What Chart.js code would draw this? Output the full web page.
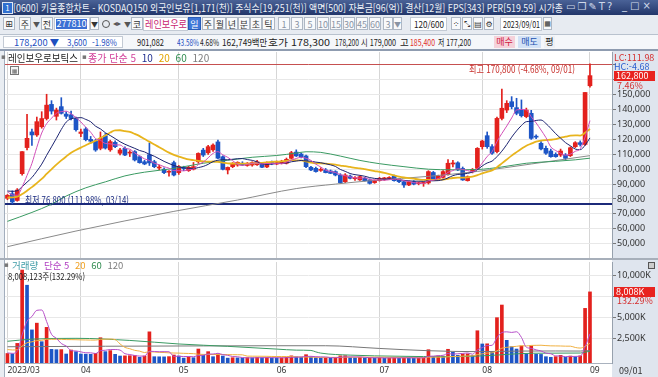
<!DOCTYPE html>
<html lang="ko">
<head>
<meta charset="utf-8">
<title>키움종합차트 - 레인보우로보틱스</title>
<script src="https://cdn.jsdelivr.net/npm/chart.js@4.4.1/dist/chart.umd.min.js"></script>
<style>
  html, body { margin: 0; padding: 0; }
  body { width: 658px; height: 377px; overflow: hidden; position: relative; background: #fff;
         font-family: "Noto Sans CJK KR", "Noto Sans", sans-serif; font-size: 10px; color: #222; }
  .abs { position: absolute; white-space: nowrap; line-height: 1; transform-origin: 0 50%; }
  #titlebar { position: absolute; left: 0; top: 0; width: 658px; height: 15px; background: linear-gradient(#4a6297, #22366a); }
  #toolbar { position: absolute; left: 0; top: 15px; width: 658px; height: 19px; background: #e7ebf1; border-bottom: 1px solid #b9c2ce; }
  #infobar { position: absolute; left: 0; top: 35px; width: 658px; height: 14px; background: #f5f7fa; border-bottom: 1px solid #8f9cb0; }
  .btn { position: absolute; top: 2px; height: 13px; border: 1px solid #aeb7c4; background: #f8f9fb; font-size: 9px;
         line-height: 13px; text-align: center; box-sizing: border-box; color: #333; }
  .dim { color: #8a94a4; }
  .box { position: absolute; top: 1px; height: 12px; border: 1px solid #c3cad4; background: #fff; box-sizing: border-box; }
  #rightStrip { position: absolute; left: 612px; top: 50px; width: 46px; height: 327px; background: #dfe5ee; }
  #leftStrip { position: absolute; left: 0; top: 50px; width: 4px; height: 327px; background: #e9edf2; border-right: 1px solid #a3aebd; }
  .pane { position: absolute; left: 0; width: 658px; }
  .tag { position: absolute; left: 614px; width: 41px; height: 10px; background: #e8231f; color: #fff; font-size: 9px; line-height: 10px; padding-left: 2px; box-sizing: border-box; }
</style>
</head>
<body>

<div id="titlebar">
  <span class="abs" style="left:2px;top:2px;width:9px;height:10px;border:1px solid #dfe6f3;background:#2f6fd0;color:#fff;font-size:8px;line-height:10px;text-align:center;">1</span>
  <span class="abs" data-w="550" style="left:13px;top:3px;color:#eef2f8;font-size:10px;">[0600] 키움종합차트 - KOSDAQ150 외국인보유[1,171(천)] 주식수[19,251(천)] 액면[500] 자본금[96(억)] 결산[12월] EPS[343] PER[519.59] 시가총</span>
  <span class="abs" style="left:566px;top:2px;color:#cfd9ea;font-size:10px;letter-spacing:2px;font-family:'DejaVu Sans';">▭❐✎T?</span>
  <span class="abs" style="left:622px;top:1px;color:#cfd9ea;font-size:10px;letter-spacing:3px;font-family:'DejaVu Sans';">_□×</span>
</div>

<div id="toolbar">
  <span class="btn" style="left:3px;width:12px;font-family:'DejaVu Sans';">⊞</span>
  <span class="btn" style="left:19px;width:12px;">주</span>
  <span class="abs" style="left:33px;top:6px;font-size:7px;color:#555;">▼</span>
  <span class="btn" style="left:41px;width:12px;">전</span>
  <span class="box" style="left:54px;top:2px;width:36px;height:14px;"></span>
  <span class="abs" style="left:56px;top:4px;width:31px;height:10px;background:#3b6fd4;color:#fff;font-size:9px;line-height:10px;text-align:center;">277810</span>
  <span class="btn" style="left:90px;width:9px;font-size:7px;">▼</span>
  <span class="abs" style="left:102px;top:5px;width:6px;height:6px;border:1.5px solid #555;border-radius:50%;"></span>
  <span class="abs" style="left:113px;top:5px;font-size:8px;color:#555;font-family:'DejaVu Sans';">◂▸</span>
  <span class="abs" style="left:124px;top:6px;font-size:7px;color:#555;">▼</span>
  <span class="btn" style="left:131px;width:12px;">코</span>
  <span class="box" style="left:143px;top:2px;width:45px;height:14px;"></span>
  <span class="abs" data-w="42" style="left:145px;top:4px;color:#c8246f;font-size:10px;">레인보우로</span>
  <span class="btn" style="left:188px;width:13px;background:#3e77d8;color:#fff;border-color:#2a5db8;">일</span>
  <span class="btn" style="left:202px;width:12px;">주</span>
  <span class="btn" style="left:214px;width:12px;">월</span>
  <span class="btn" style="left:226px;width:12px;">년</span>
  <span class="btn" style="left:238px;width:12px;">분</span>
  <span class="btn" style="left:250px;width:12px;">초</span>
  <span class="btn" style="left:262px;width:13px;">틱</span>
  <span class="btn dim" style="left:278px;width:12px;">1</span>
  <span class="btn dim" style="left:291px;width:12px;">3</span>
  <span class="btn dim" style="left:304px;width:12px;">5</span>
  <span class="btn dim" style="left:317px;width:12px;">10</span>
  <span class="btn dim" style="left:330px;width:12px;">15</span>
  <span class="btn dim" style="left:343px;width:12px;">30</span>
  <span class="btn dim" style="left:356px;width:12px;">45</span>
  <span class="btn dim" style="left:369px;width:12px;">60</span>
  <span class="btn dim" style="left:383px;width:10px;">3</span>
  <span class="btn dim" style="left:393px;width:9px;font-size:7px;">▼</span>
  <span class="box" style="left:410px;top:2px;width:37px;height:14px;"></span>
  <span class="abs" data-w="30" style="left:414px;top:5px;font-size:9px;">120/600</span>
  <span class="btn" style="left:451px;width:10px;font-family:'DejaVu Sans';font-size:8px;">⁘</span>
  <span class="btn" style="left:462px;width:10px;font-family:'DejaVu Sans';font-size:8px;">⤡</span>
  <span class="btn" style="left:473px;width:10px;font-family:'DejaVu Sans';font-size:8px;">▤</span>
  <span class="btn" style="left:484px;width:10px;font-family:'DejaVu Sans';font-size:8px;">⚙</span>
  <span class="box" style="left:500px;top:2px;width:42px;height:14px;"></span>
  <span class="abs" data-w="37" style="left:503px;top:5px;font-size:9px;">2023/09/01</span>
  <span class="btn" style="left:543px;width:9px;font-family:'DejaVu Sans';font-size:7px;">▦</span>
</div>

<div id="infobar">
  <span class="box" style="left:3px;width:120px;"></span>
  <span class="abs" data-w="45" style="left:14px;top:3px;color:#1d4fbf;font-size:9.5px;">178,200 ▼</span>
  <span class="abs" data-w="20" style="left:67px;top:3px;color:#1d4fbf;font-size:9.5px;">3,600</span>
  <span class="abs" data-w="25" style="left:92px;top:3px;color:#1d4fbf;font-size:9.5px;">-1.98%</span>
  <span class="abs" data-w="27" style="left:137px;top:3px;font-size:9.5px;">901,082</span>
  <span class="abs" data-w="22" style="left:177px;top:3px;color:#1d4fbf;font-size:9.5px;">43.58%</span>
  <span class="abs" data-w="19" style="left:200px;top:3px;font-size:9.5px;">4.68%</span>
  <span class="abs" data-w="45" style="left:222px;top:3px;font-size:9.5px;">162,749백만</span>
  <span class="abs" data-w="62" style="left:268px;top:3px;font-size:9.5px;">호가 178,300</span>
  <span class="abs" data-w="24" style="left:335px;top:3px;font-size:9.5px;">178,200</span>
  <span class="abs" data-w="35" style="left:361px;top:3px;font-size:9.5px;">시 179,000</span>
  <span class="abs" style="left:400px;top:3px;font-size:9.5px;">고</span>
  <span class="abs" data-w="25" style="left:410px;top:3px;color:#e0302a;font-size:9.5px;">185,400</span>
  <span class="abs" data-w="33" style="left:438px;top:3px;font-size:9.5px;">저 177,200</span>
  <span class="abs" style="left:494px;top:1px;width:21px;height:12px;background:#f5d2da;color:#d02040;font-size:9px;line-height:12px;text-align:center;">매수</span>
  <span class="abs" style="left:518px;top:1px;width:23px;height:12px;background:#d3e2f6;color:#2050b0;font-size:9px;line-height:12px;text-align:center;">매도</span>
  <span class="abs" style="left:544px;top:1px;width:11px;height:12px;background:#eef1f5;font-size:9px;line-height:12px;text-align:center;">평</span>
</div>

<div id="rightStrip"></div>
<div id="leftStrip"></div>
<div class="abs" style="left:0;top:50px;width:658px;height:1px;background:#8f9cb0;"></div>

<div class="pane" style="top:52px;height:206px;"><canvas id="priceChart" width="658" height="206"></canvas></div>
<div class="abs" style="left:0;top:258px;width:658px;height:2px;background:#a7afba;"></div>
<div class="pane" style="top:260px;height:117px;"><canvas id="volumeChart" width="658" height="117"></canvas></div>

<!-- price pane texts -->
<span class="abs" style="left:1px;top:54px;font-size:7px;color:#777;font-family:'DejaVu Sans';">▪</span>
<span class="abs" data-w="70" style="left:8px;top:53px;font-size:10px;color:#222;">레인보우로보틱스</span>
<span class="abs" style="left:82px;top:54px;font-size:7px;color:#777;font-family:'DejaVu Sans';">▪</span>
<span class="abs" style="left:88px;top:53px;font-size:10px;">
  <span style="color:#d2409a;">종가 단순 5</span>
  <span style="color:#1e2d8f;margin-left:3px;">10</span>
  <span style="color:#e2a400;margin-left:3px;">20</span>
  <span style="color:#2e8b4e;margin-left:3px;">60</span>
  <span style="color:#7d7d7d;margin-left:3px;">120</span>
</span>
<span class="abs" style="left:10px;top:66px;width:7px;height:7px;border:1px solid #777;background:#f4f4f4;font-size:6px;line-height:7px;text-align:center;color:#666;font-family:'DejaVu Sans';">▦</span>
<span class="abs" data-w="106" style="left:469px;top:64px;font-size:10px;color:#c8302c;">최고 170,800 (-4.68%, 09/01)</span>
<span class="abs" data-w="104" style="left:25px;top:195px;font-size:10px;color:#1a2a80;">최저 76,800 (111.98%, 03/14)</span>
<span class="abs" style="left:614px;top:53px;font-size:9px;color:#d43030;">LC:111.98</span>
<span class="abs" style="left:614px;top:62px;font-size:9px;color:#2a5fd0;">HC:-4.68</span>
<div class="tag" style="top:71px;">162,800</div>
<span class="abs" style="left:617px;top:81px;font-size:9px;color:#d43030;">7.46%</span>

<!-- volume pane texts -->
<span class="abs" style="left:4px;top:262px;font-size:7px;color:#777;font-family:'DejaVu Sans';">▪</span>
<span class="abs" style="left:12px;top:261px;font-size:9.5px;">
  <span style="color:#3c9ba6;">거래량</span>
  <span style="color:#b13fc2;margin-left:3px;">단순 5</span>
  <span style="color:#f0a020;margin-left:3px;">20</span>
  <span style="color:#2e8b4e;margin-left:3px;">60</span>
  <span style="color:#7d7d7d;margin-left:3px;">120</span>
</span>
<span class="abs" data-w="77" style="left:8px;top:272px;font-size:9px;color:#222;">8,008,123주(132.29%)</span>
<span class="abs" style="left:648px;top:262px;width:5px;height:5px;border:1px solid #555;background:#ccc;"></span>
<div class="tag" style="top:287px;">8,008K</div>
<span class="abs" style="left:617px;top:296px;font-size:9px;color:#d43030;">132.29%</span>
<span class="abs" style="left:619px;top:366px;font-size:9px;color:#333;">09/01</span>

<script>
// ---- data (daily, 2023/03/13 ~ 2023/09/01) ----
const dates = [
  '03/13','03/14','03/15','03/16','03/17','03/20','03/21','03/22','03/23','03/24','03/27','03/28','03/29','03/30','03/31',
  '04/03','04/04','04/05','04/06','04/07','04/10','04/11','04/12','04/13','04/14','04/17','04/18','04/19','04/20','04/21',
  '04/24','04/25','04/26','04/27','04/28',
  '05/02','05/03','05/04','05/08','05/09','05/10','05/11','05/12','05/15','05/16','05/17','05/18','05/19','05/22','05/23',
  '05/24','05/25','05/26','05/30','05/31',
  '06/01','06/02','06/05','06/07','06/08','06/09','06/12','06/13','06/14','06/15','06/16','06/19','06/20','06/21','06/22',
  '06/23','06/26','06/27','06/28','06/29','06/30',
  '07/03','07/04','07/05','07/06','07/07','07/10','07/11','07/12','07/13','07/14','07/17','07/18','07/19','07/20','07/21',
  '07/24','07/25','07/26','07/27','07/28','07/31',
  '08/01','08/02','08/03','08/04','08/07','08/08','08/09','08/10','08/11','08/14','08/16','08/17','08/18','08/21','08/22',
  '08/23','08/24','08/25','08/28','08/29','08/30','08/31',
  '09/01'
];
const opens = [
  80500, 83500, 79000, 97000, 114500, 125000, 123000, 128500, 134000, 143500, 135500, 142000, 137000, 136500, 134000,
  124000, 127000, 120000, 119000, 114000, 122500, 113000, 118000, 110700, 114000, 110800, 111800, 108400, 105000, 109700,
  105000, 100800, 100000, 98000, 104400,
  97700, 100800, 99000, 100000, 105000, 112800, 111000, 113000, 118300, 108400, 99500, 101700, 102800, 104000, 102500,
  102800, 103000, 104000, 101500, 104500,
  103500, 104000, 104000, 107300, 111500, 110200, 108900, 101300, 100600, 99200, 99500, 98800, 98400, 96100, 91600,
  95400, 93600, 92800, 93900, 92800, 91000,
  92300, 93500, 93800, 95400, 92800, 91600, 89400, 91600, 90300, 90500, 90800, 97800, 93000, 94500, 96300,
  103500, 104300, 100500, 92300, 98300, 100600,
  115100, 122500, 115100, 111800, 134100, 139700, 145300, 141300, 139700, 135300, 137500, 122000, 117400, 114000, 112200,
  110000, 109500, 109500, 109100, 115100, 117800, 116600,
  156000
];
const highs = [
  83000, 85500, 87000, 111800, 136800, 127000, 135000, 138600, 150300, 146000, 141000, 148000, 138500, 139000, 135000,
  127000, 128000, 122000, 120000, 125000, 124000, 119500, 119000, 114000, 115000, 112500, 112500, 109000, 106000, 117600,
  106000, 102800, 101000, 99000, 105500,
  102500, 102000, 102000, 104500, 111000, 114000, 116000, 117000, 119500, 109000, 101500, 104500, 105000, 105000, 104500,
  105000, 106000, 104500, 105000, 105500,
  105500, 106000, 107500, 112000, 113000, 111000, 109500, 102000, 101500, 101000, 100500, 99500, 99000, 97000, 97000,
  96000, 95000, 95500, 94500, 93500, 92800,
  94500, 94500, 95000, 96000, 93500, 92000, 92000, 92300, 91500, 91500, 99000, 98500, 96000, 99000, 106400,
  106000, 105000, 101500, 95500, 100500, 114500,
  119500, 125000, 116500, 135000, 153800, 146000, 148700, 147600, 146500, 141000, 139500, 123000, 118500, 115500, 113500,
  111000, 113500, 110500, 115000, 118500, 119000, 151500,
  170800
];
const lows = [
  79500, 76800, 78500, 96000, 113000, 116000, 122000, 127500, 133000, 137000, 133000, 137000, 134000, 133000, 125500,
  121800, 119000, 117500, 112000, 113000, 113500, 112000, 114500, 109500, 109000, 108500, 105500, 104000, 103000, 102500,
  101000, 99500, 97000, 95400, 95500,
  96500, 99000, 98500, 99500, 104000, 108500, 110000, 112000, 107000, 99500, 96800, 101000, 102000, 102500, 102000,
  102000, 102500, 101000, 101000, 103000,
  103000, 103500, 103500, 107000, 108500, 107500, 101000, 99000, 98000, 98500, 97500, 97000, 95500, 90500, 91000,
  93500, 92500, 92500, 92000, 90000, 90500,
  92000, 92500, 93000, 92000, 91000, 87800, 89000, 89500, 89500, 88500, 90000, 93000, 92500, 94000, 96000,
  101500, 99000, 92500, 92000, 97500, 100000,
  113500, 114000, 110000, 111000, 133000, 138000, 140500, 136500, 135000, 134500, 120000, 120500, 113000, 110000, 108000,
  108000, 108500, 106200, 108500, 114500, 115500, 116000,
  155000
];
const closes = [
  82500, 78000, 86000, 111800, 120700, 123000, 131900, 134000, 143000, 139000, 139700, 137500, 135500, 134000, 126500,
  125000, 119800, 118800, 112900, 120700, 114200, 118500, 115100, 112900, 109500, 111100, 106200, 104400, 103500, 104200,
  101700, 101300, 97700, 98400, 96100,
  101700, 100400, 101300, 101700, 110600, 109500, 115100, 116200, 107400, 99900, 101200, 103900, 104600, 102800, 104000,
  104400, 105000, 101300, 104500, 103500,
  104400, 105000, 106600, 111100, 108900, 108400, 101700, 99500, 98400, 99500, 97700, 97200, 96100, 91000, 96100,
  93900, 93900, 95000, 92300, 90500, 92300,
  93900, 93900, 94000, 92300, 91600, 89400, 91600, 90000, 90500, 90900, 98400, 93300, 95400, 98400, 104000,
  104200, 99500, 92800, 95000, 99900, 114000,
  118900, 115100, 110700, 134100, 140900, 144200, 142000, 137500, 135900, 139700, 120700, 121500, 113600, 110700, 108400,
  108400, 112200, 107300, 114400, 117800, 116600, 151500,
  162800
];
// volume, thousand shares
const volumes = [
  700, 650, 1900, 10600, 8800, 3500, 4300, 2100, 3800, 1190, 1150, 1160, 640, 1110, 920,
  640, 620, 600, 720, 2570, 920, 1040, 600, 400, 420, 440, 460, 250, 400, 3270,
  320, 310, 300, 330, 520,
  400, 150, 320, 200, 1230, 520, 920, 320, 640, 400, 150, 200, 180, 160, 210,
  190, 230, 200, 220, 180,
  170, 190, 260, 420, 300, 250, 560, 300, 200, 180, 210, 190, 230, 420, 440,
  200, 180, 240, 180, 200, 170,
  190, 150, 170, 200, 160, 220, 190, 150, 160, 200, 1150, 300, 420, 380, 1200,
  850, 480, 640, 660, 450, 3400,
  1830, 1850, 840, 4950, 6450, 2260, 1510, 1230, 1590, 640, 1590, 600, 590, 320, 250,
  330, 480, 250, 400, 320, 420, 6053,
  8008
];
// sessions before 03/13, needed to start the short averages
const prevCloses = [76000, 77000, 76000, 75000, 76000, 77000, 78000, 77000, 76000, 78000, 80000, 82000, 85000, 90000, 92000, 89000, 87000, 84000, 82000];
const prevVolumes = [1500, 1400, 1600, 1300, 1200, 1500, 1400, 1300, 1250, 1200, 1100, 1300, 1200, 1150, 1000, 900, 800, 750, 700];
// long averages: [session index, value]
const priceMa60Pts = [[0,65000],[5,71000],[9,76500],[12,82000],[16,87500],[20,91500],[24,95500],[28,98000],[34,100500],[40,104000],
  [45,106000],[50,108000],[55,109200],[59,110800],[61,111700],[64,111300],[68,108800],[72,105900],[76,103700],[81,101700],
  [86,100000],[91,99600],[96,99800],[101,101500],[106,104000],[112,105300],[116,106300],[119,107400]];
const priceMa120Pts = [[0,48000],[14,58500],[34,71700],[47,79300],[59,87000],[67,90000],[75,92500],[86,95200],[96,98500],[107,103500],[119,109100]];
const volMa60Pts = [[0,2150],[5,2400],[14,2500],[25,2250],[35,1830],[45,1550],[55,1224],[59,1100],[62,1065],[63,891],[64,748],
  [70,509],[80,374],[90,320],[96,395],[100,515],[105,692],[110,738],[117,755],[118,849],[119,977]];
const volMa120Pts = [[0,1500],[20,1560],[40,1600],[55,1620],[65,1620],[76,1300],[86,1030],[96,920],[105,990],[112,1000],[117,990],[118,1030],[119,1039]];

const monthTicks = ['2023/03', '04', '05', '06', '07', '08', '09'];
const priceGridValues = [50000, 60000, 70000, 80000, 90000, 100000, 110000, 120000, 130000, 140000, 150000, 160000, 170000];
const priceTickLabels = [50000, 60000, 70000, 80000, 90000, 100000, 110000, 120000, 130000, 140000, 150000];
const volGridValues = [2500, 5000, 7500, 10000];
const volTickLabels = [2500, 5000, 10000];

// ---- helpers ----
const RED = '#e3211d';
const BLUE = '#1d55c6';

function movingAvg(values, prev, n) {
  const all = prev.concat(values);
  return values.map((_, i) => {
    const j = i + prev.length;
    if (j + 1 < n) return null;
    let s = 0;
    for (let k = j - n + 1; k <= j; k++) s += all[k];
    return s / n;
  });
}
const toPoints = pts => pts.map(([i, v]) => ({ x: dates[i], y: v }));

// four empty slots keep the right margin between the last candle and the axis
const labels = dates.concat(['', ' ', '  ', '   ']);

const monthLabelAt = {};
let m = 0;
dates.forEach((d, i) => {
  if (i === 0 || d.slice(0, 2) !== dates[i - 1].slice(0, 2)) monthLabelAt[i] = monthTicks[m++];
});
const monthGrid = ctx => (ctx.tick && monthLabelAt[ctx.tick.value] !== undefined) ? '#d6d6d6' : 'rgba(0,0,0,0)';

const candleColors = opens.map((o, i) => closes[i] >= o ? RED : BLUE);
const volColors = volumes.map((v, i) => v >= (i === 0 ? prevVolumes[prevVolumes.length - 1] : volumes[i - 1]) ? RED : BLUE);

const fixY = s => { s.width = 46; s.paddingTop = 0; s.paddingBottom = 0; };
const setTicks = values => s => { s.ticks = values.map(v => ({ value: v })); };
const fmt = v => String(Math.round(v)).replace(/\B(?=(\d{3})+(?!\d))/g, ',');

Chart.defaults.font.family = '"Noto Sans", "DejaVu Sans", sans-serif';
Chart.defaults.font.size = 9;
Chart.defaults.color = '#333';

const baseOptions = {
  responsive: false,
  animation: false,
  devicePixelRatio: 1,
  events: [],
  plugins: { legend: { display: false }, tooltip: { enabled: false } }
};

// hi / lo reference lines
const extremeLines = {
  id: 'extremeLines',
  beforeDatasetsDraw(chart) {
    const { ctx, chartArea, scales: { y } } = chart;
    const hiY = Math.round(y.getPixelForValue(Math.max(...highs))) + 0.5;
    const loY = Math.round(y.getPixelForValue(Math.min(...lows)));
    ctx.save();
    ctx.strokeStyle = '#c65050';
    ctx.lineWidth = 1;
    ctx.beginPath(); ctx.moveTo(chartArea.left, hiY); ctx.lineTo(chartArea.right, hiY); ctx.stroke();
    ctx.strokeStyle = '#1c2a7a';
    ctx.lineWidth = 2;
    ctx.beginPath(); ctx.moveTo(chartArea.left, loY); ctx.lineTo(chartArea.right, loY); ctx.stroke();
    ctx.restore();
  }
};

const lineDs = (label, data, color, width, order) => ({
  type: 'line', label, data, borderColor: color, borderWidth: width, pointRadius: 0,
  cubicInterpolationMode: 'monotone', order
});

// ---- price chart ----
new Chart(document.getElementById('priceChart'), {
  type: 'bar',
  data: {
    labels,
    datasets: [
      lineDs('MA5', movingAvg(closes, prevCloses, 5), '#d24fb8', 1, 1),
      lineDs('MA10', movingAvg(closes, prevCloses, 10), '#1b2370', 1, 2),
      lineDs('MA20', movingAvg(closes, prevCloses, 20), '#e8b41c', 1.8, 3),
      lineDs('MA60', toPoints(priceMa60Pts), '#3a9a62', 1, 4),
      lineDs('MA120', toPoints(priceMa120Pts), '#8a8a8a', 1, 5),
      { label: 'body', data: opens.map((o, i) => [o, closes[i]]), backgroundColor: candleColors,
        barThickness: 4, minBarLength: 1, grouped: false, order: 10 },
      { label: 'wick', data: highs.map((h, i) => [lows[i], h]), backgroundColor: candleColors,
        barThickness: 1, grouped: false, order: 11 }
    ]
  },
  options: {
    ...baseOptions,
    layout: { padding: { left: 5, right: 0, top: 0, bottom: 0 } },
    scales: {
      x: {
        ticks: { display: false },
        grid: { color: monthGrid, offset: false, drawTicks: false },
        border: { display: false },
        afterFit: s => { s.height = 0; s.paddingLeft = 0; s.paddingRight = 0; }
      },
      y: {
        position: 'right',
        min: 40400, max: 178660,
        afterBuildTicks: setTicks(priceGridValues),
        ticks: {
          autoSkip: false, padding: 1, color: '#333',
          callback: v => priceTickLabels.includes(v) ? fmt(v) : ''
        },
        grid: { color: '#e8e8e8', tickColor: '#777', tickLength: 4 },
        border: { display: true, color: '#97a1ad' },
        afterFit: fixY
      }
    }
  },
  plugins: [extremeLines]
});

// ---- volume chart ----
const volMin = -427;
new Chart(document.getElementById('volumeChart'), {
  type: 'bar',
  data: {
    labels,
    datasets: [
      lineDs('VMA5', movingAvg(volumes, prevVolumes, 5), '#b64fc8', 1, 1),
      lineDs('VMA20', movingAvg(volumes, prevVolumes, 20), '#f0b040', 1, 2),
      lineDs('VMA60', toPoints(volMa60Pts), '#3a9a62', 1, 3),
      lineDs('VMA120', toPoints(volMa120Pts), '#777777', 1, 4),
      { label: 'volume', data: volumes, backgroundColor: volColors, barThickness: 3,
        base: volMin, grouped: false, order: 10 }
    ]
  },
  options: {
    ...baseOptions,
    layout: { padding: { left: 5, right: 0, top: 2, bottom: 0 } },
    scales: {
      x: {
        ticks: {
          autoSkip: false, maxRotation: 0, align: 'start', padding: 2, color: '#333', font: { size: 8.5 },
          callback: (v, i) => monthLabelAt[i] !== undefined ? monthLabelAt[i] : ''
        },
        grid: { color: monthGrid, offset: false, drawTicks: false },
        border: { display: true, color: '#a9b2be' },
        afterFit: s => { s.height = 14; s.paddingLeft = 0; s.paddingRight = 0; }
      },
      y: {
        position: 'right',
        min: volMin, max: 11554,
        afterBuildTicks: setTicks(volGridValues),
        ticks: {
          autoSkip: false, padding: 1, color: '#333',
          callback: v => volTickLabels.includes(v) ? fmt(v) + 'K' : ''
        },
        grid: { color: '#e8e8e8', tickColor: '#777', tickLength: 4 },
        border: { display: true, color: '#97a1ad' },
        afterFit: fixY
      }
    }
  }
});

// squeeze header texts to the widths they take in the original window
function fitTexts() {
  document.querySelectorAll('[data-w]').forEach(el => {
    el.style.transform = 'none';
    const w = el.getBoundingClientRect().width;
    if (w > 0) el.style.transform = 'scaleX(' + (parseFloat(el.dataset.w) / w) + ')';
  });
}
fitTexts();
if (document.fonts && document.fonts.ready) document.fonts.ready.then(fitTexts);
</script>
</body>
</html>
